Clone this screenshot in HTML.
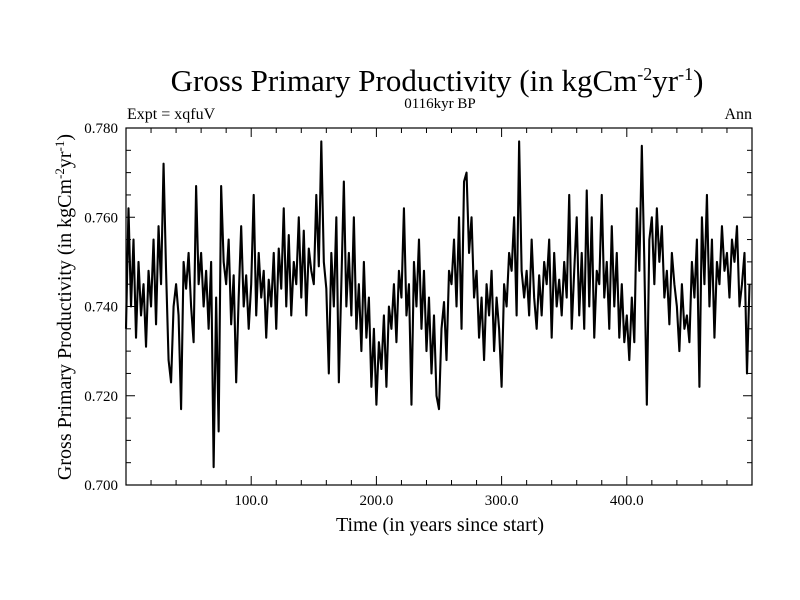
<!DOCTYPE html>
<html><head><meta charset="utf-8"><style>
body{margin:0;background:#fff;}
svg{display:block;font-family:"Liberation Serif",serif;}
</style></head><body>
<svg id="chart" width="800" height="600" viewBox="0 0 800 600">
<text x="437" y="91" font-size="31" text-anchor="middle">Gross Primary Productivity (in kgCm<tspan dy="-11" font-size="18">-2</tspan><tspan dy="11">yr</tspan><tspan dy="-11" font-size="18">-1</tspan><tspan dy="11">)</tspan></text>
<text x="127" y="119" font-size="16">Expt = xqfuV</text>
<text x="440" y="108" font-size="15" text-anchor="middle">0116kyr BP</text>
<text x="752" y="119" font-size="16" text-anchor="end">Ann</text>
<text x="440" y="531" font-size="20" text-anchor="middle">Time (in years since start)</text>
<text transform="translate(71,307) rotate(-90)" font-size="20" text-anchor="middle">Gross Primary Productivity (in kgCm<tspan dy="-7" font-size="13">-2</tspan><tspan dy="7">yr</tspan><tspan dy="-7" font-size="13">-1</tspan><tspan dy="7">)</tspan></text>
<g id="axes"></g>
<path id="series" fill="none" stroke="#000" stroke-width="2.1" stroke-linejoin="round"/>
<rect x="126" y="128" width="626" height="357" fill="none" stroke="#000" stroke-width="1.2"/>
</svg>
<script>
const years0 = 0, yearStep = 2;
const values = [
0.735,0.762,0.740,0.755,0.733,0.750,0.738,0.745,0.731,0.748,
0.740,0.755,0.736,0.758,0.745,0.772,0.748,0.728,0.723,0.740,
0.745,0.738,0.717,0.750,0.744,0.752,0.740,0.732,0.767,0.745,
0.752,0.740,0.748,0.735,0.750,0.704,0.742,0.712,0.767,0.750,
0.745,0.755,0.736,0.747,0.723,0.742,0.758,0.740,0.747,0.735,
0.745,0.765,0.738,0.752,0.742,0.748,0.733,0.746,0.740,0.752,
0.735,0.753,0.744,0.762,0.740,0.756,0.738,0.750,0.745,0.760,
0.742,0.757,0.738,0.753,0.748,0.745,0.765,0.749,0.777,0.750,
0.744,0.725,0.752,0.740,0.760,0.723,0.745,0.768,0.740,0.752,
0.738,0.760,0.735,0.745,0.730,0.750,0.733,0.742,0.722,0.735,
0.718,0.732,0.726,0.738,0.722,0.740,0.735,0.745,0.732,0.748,
0.742,0.762,0.738,0.745,0.718,0.750,0.740,0.755,0.735,0.748,
0.730,0.742,0.725,0.738,0.720,0.717,0.735,0.741,0.728,0.748,
0.745,0.755,0.740,0.760,0.735,0.768,0.770,0.752,0.760,0.742,
0.748,0.733,0.742,0.728,0.745,0.738,0.748,0.730,0.742,0.735,
0.722,0.745,0.740,0.752,0.748,0.760,0.738,0.777,0.748,0.742,
0.748,0.738,0.755,0.742,0.735,0.747,0.738,0.750,0.745,0.755,
0.733,0.752,0.740,0.746,0.738,0.750,0.742,0.765,0.735,0.748,
0.760,0.738,0.752,0.735,0.766,0.740,0.760,0.733,0.748,0.745,
0.765,0.742,0.750,0.735,0.758,0.740,0.752,0.733,0.745,0.732,
0.738,0.728,0.742,0.732,0.762,0.748,0.776,0.750,0.718,0.755,
0.760,0.745,0.762,0.750,0.758,0.742,0.748,0.736,0.752,0.745,
0.740,0.730,0.745,0.735,0.738,0.732,0.750,0.742,0.755,0.722,
0.760,0.745,0.765,0.740,0.755,0.733,0.750,0.745,0.758,0.748,
0.752,0.742,0.755,0.750,0.758,0.740,0.745,0.752,0.725,0.745
];
const xTickLabels = [100, 200, 300, 400];
const yTickLabels = [0.700, 0.720, 0.740, 0.760, 0.780];
const xMin = 0, xMax = 500, yMin = 0.700, yMax = 0.780;
const L = 126, R = 752, T = 128, B = 485;
const xs = v => L + (v - xMin) / (xMax - xMin) * (R - L);
const ys = v => B - (v - yMin) / (yMax - yMin) * (B - T);
const NS = "http://www.w3.org/2000/svg";
const axes = document.getElementById('axes');
function line(x1,y1,x2,y2,name){
  const l = document.createElementNS(NS,'line');
  l.setAttribute('x1',x1);l.setAttribute('y1',y1);l.setAttribute('x2',x2);l.setAttribute('y2',y2);
  l.setAttribute('stroke','#000');l.setAttribute('stroke-width','1');
  
  
  axes.appendChild(l);
}
function text(x,y,s,anchor,name){
  const t = document.createElementNS(NS,'text');
  t.setAttribute('x',x);t.setAttribute('y',y);t.setAttribute('font-size','15');
  t.setAttribute('text-anchor',anchor);t.textContent=s;
  
  
  axes.appendChild(t);
}
for(let v=20; v<xMax; v+=20){
  const x = xs(v), major = v % 100 === 0, len = major ? 9 : 5;
  line(x,B,x,B-len,'x-tick');
  line(x,T,x,T+len,'x-tick-top');
}
for(let k=0;k<=16;k++){
  const v = yMin + k*0.005, y = ys(v), major = k % 4 === 0, len = major ? 9 : 5;
  line(L,y,L+len,y,'y-tick');
  line(R,y,R-len,y,'y-tick-right');
}
xTickLabels.forEach(v => text(xs(v), B+20, v.toFixed(1), 'middle', 'x-tick-label'));
yTickLabels.forEach(v => text(L-8, ys(v)+5, v.toFixed(3), 'end', 'y-tick-label'));
let d = '';
values.forEach((v,i) => { d += (i ? 'L' : 'M') + xs(years0 + i*yearStep).toFixed(2) + ',' + ys(v).toFixed(2); });
document.getElementById('series').setAttribute('d', d);
</script>
</body></html>
